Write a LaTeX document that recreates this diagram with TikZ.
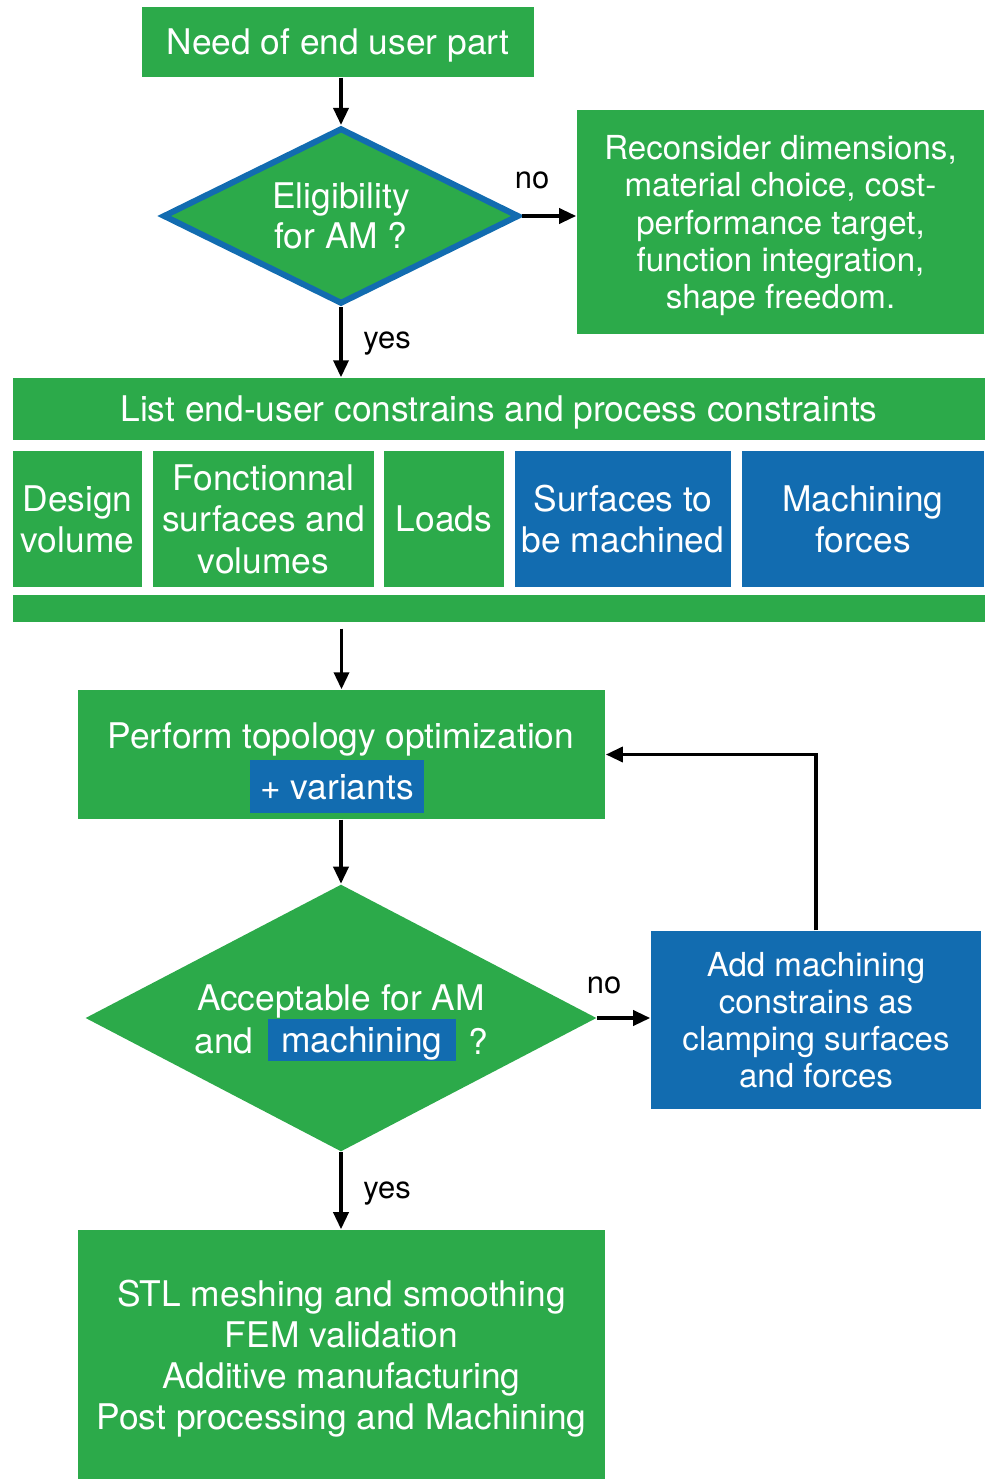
\documentclass[tikz,border=0pt]{standalone}
\usepackage{fontspec}
\setmainfont{TeX Gyre Heros}
\usetikzlibrary{shapes.geometric,arrows.meta}
\definecolor{amgreen}{RGB}{44,170,74}
\definecolor{amblue}{RGB}{18,108,176}

\begin{document}
\begin{tikzpicture}[x=0.01cm,y=-0.01cm,
  gbox/.style={fill=amgreen,text=white,inner sep=0pt,align=center,text depth=0pt,font=\fontsize{10.05}{11.7}\selectfont},
  bbox/.style={gbox,fill=amblue},
  arr/.style={-{Triangle[length=0.17cm,width=0.15cm]},line width=1pt},
  lab/.style={text depth=0pt,font=\fontsize{8.8}{10}\selectfont}]
\useasboundingbox (0,0) rectangle (985,1479);

% top part
\node[gbox,minimum width=3.92cm,minimum height=0.70cm] (need) at (338,42) {Need of end user part};
\node[gbox,diamond,aspect=2,draw=amblue,line width=1.7pt,minimum width=3.56cm,minimum height=1.76cm,font=\fontsize{10.05}{11.4}\selectfont] (elig) at (341,216) {Eligibility\\for AM ?};
\node[gbox,minimum width=4.07cm,minimum height=2.24cm,font=\fontsize{9.4}{10.6}\selectfont] (recon) at (780.5,222) {Reconsider dimensions,\\material choice, cost-\\performance target,\\function integration,\\shape freedom.};
\node[lab] (no1) at (532,180) {no};
\node[lab] (yes1) at (387,340) {yes};
\draw[arr] (elig.north |- need.south) -- (elig.north);
\draw[arr] (elig.east) -- (elig.east -| recon.west);

% constraints
\node[gbox,minimum width=9.72cm,minimum height=0.62cm] (list) at (499,409) {List end-user constrains and process constraints};
\node[gbox,minimum width=1.29cm,minimum height=1.36cm] (design) at (77.5,519) {Design\\volume};
\node[gbox,minimum width=2.21cm,minimum height=1.36cm] (fonct) at (263.5,519) {Fonctionnal\\surfaces and\\volumes};
\node[gbox,minimum width=1.20cm,minimum height=1.36cm] (loads) at (444,519) {Loads};
\node[bbox,minimum width=2.16cm,minimum height=1.36cm] (surf) at (623,519) {Surfaces to\\be machined};
\node[bbox,minimum width=2.42cm,minimum height=1.36cm] (mforce) at (863,519) {Machining\\forces};
\node[gbox,minimum width=9.72cm,minimum height=0.27cm] (band) at (499,608.5) {};
\draw[arr] (elig.south) -- (elig.south |- list.north);

% optimization loop
\node[gbox,minimum width=5.27cm,minimum height=1.29cm] (topo) at (341.5,754.5) {};
\node[gbox,fill=none] (topotxt) at (341,736) {Perform topology optimization};
\node[bbox,minimum width=1.74cm,minimum height=0.53cm] (variants) at (337,786.5) {+ variants};
\draw[arr,shorten <=0.06cm] (band.south -| topo.north) -- (topo.north);

\node[gbox,diamond,aspect=2,minimum width=5.11cm,minimum height=2.67cm] (accept) at (341,1018) {};
\node[gbox,fill=none] (acctxt) at (341,998) {Acceptable for AM};
\node[gbox,fill=none] (andtxt) at (224,1041) {and};
\node[bbox,minimum width=1.88cm,minimum height=0.42cm] (machtxt) at (362,1040) {machining};
\node[gbox,fill=none] (qtxt) at (478,1041) {?};
\draw[arr] (topo.south -| accept.north) -- (accept.north);

\node[bbox,minimum width=3.30cm,minimum height=1.78cm,font=\fontsize{9.4}{10.6}\selectfont] (add) at (816,1020) {Add machining\\constrains as\\clamping surfaces\\and forces};
\node[lab] (no2) at (604,985) {no};
\draw[arr] (accept.east) -- (accept.east -| add.west);
\draw[arr] (add.north) |- (topo.east);

% final steps
\node[gbox,minimum width=5.27cm,minimum height=2.49cm] (final) at (341.5,1354.5) {STL meshing and smoothing\\FEM validation\\Additive manufacturing\\Post processing and Machining};
\node[lab] (yes2) at (387,1190) {yes};
\draw[arr] (accept.south) -- (accept.south |- final.north);
\end{tikzpicture}
\end{document}
